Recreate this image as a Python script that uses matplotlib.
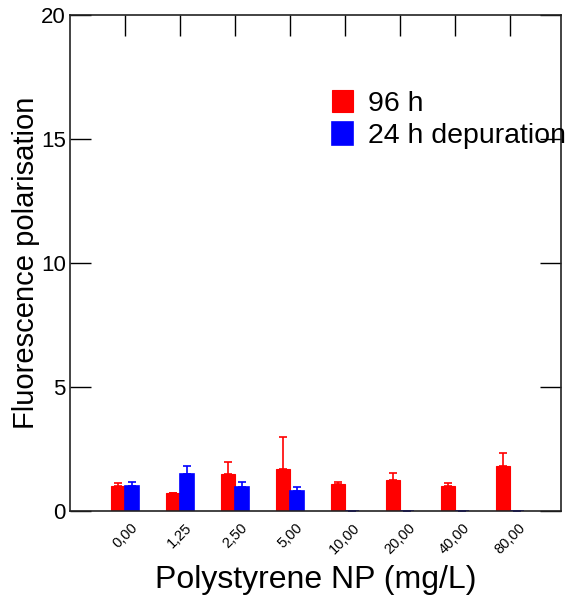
import numpy as np
import matplotlib
matplotlib.use("Agg")
from matplotlib import pyplot as plt

plt.rcParams['font.family'] = ['Liberation Sans', 'DejaVu Sans']

# Data
concentrations = ["0,00", "1,25", "2,50", "5,00", "10,00", "20,00", "40,00", "80,00"]
fp_96h = [1.01, 0.73, 1.50, 1.71, 1.10, 1.24, 1.02, 1.83]
fp_96h_err = [0.10, 0.0, 0.46, 1.26, 0.07, 0.30, 0.09, 0.51]
fp_depuration = [1.01, 1.48, 0.98, 0.82, 0.0, 0.0, 0.0, 0.0]
fp_depuration_err = [0.16, 0.33, 0.17, 0.13, 0.0, 0.0, 0.0, 0.0]

x = np.arange(len(concentrations))
width = 0.26

fig = plt.figure(figsize=(5.68, 5.99), dpi=100)
ax = fig.add_axes([70 / 568, 88 / 599, 491 / 568, 496 / 599])

red = "#ff0000"
blue = "#0000ff"
ax.bar(x - width / 2, fp_96h, width, color=red, edgecolor=red, linewidth=0.8,
       label="96 h", zorder=2)
ax.errorbar(x - width / 2, fp_96h, yerr=[np.zeros(len(x)), fp_96h_err],
            fmt="none", ecolor=red, elinewidth=1.2, capsize=3, capthick=1.2, zorder=1)
ax.bar(x + width / 2, fp_depuration, width, color=blue, edgecolor=blue, linewidth=1.2,
       label="24 h depuration", zorder=2)
ax.errorbar(x + width / 2, fp_depuration, yerr=[np.zeros(len(x)), fp_depuration_err],
            fmt="none", ecolor=blue, elinewidth=1.2, capsize=3, capthick=1.2, zorder=1)

ax.set_xlim(-1.0, 7.93)
ax.set_ylim(0, 20)
ax.set_yticks([0, 5, 10, 15, 20])
ax.set_yticklabels(["0", "5", "10", "15", "20"], fontsize=16)
ax.set_xticks(x)
ax.set_xticklabels(concentrations, rotation=45, fontsize=10.5)

ax.tick_params(axis="y", direction="in", length=15, width=1, pad=3,
               right=True, left=True)
ax.tick_params(axis="x", direction="in", length=0, top=False, pad=7)
# top spine ticks at category positions
sec = ax.secondary_xaxis("top")
sec.set_xticks(x)
sec.set_xticklabels([])
sec.tick_params(direction="in", length=15, width=1)
sec.spines["top"].set_visible(False)

for sp in ax.spines.values():
    sp.set_linewidth(1.2)
    sp.set_color("#222222")

ax.set_xlabel("Polystyrene NP (mg/L)", fontsize=23, labelpad=6)
ax.set_ylabel("Fluorescence polarisation", fontsize=21, labelpad=1)

leg = ax.legend(loc="upper left", bbox_to_anchor=(0.505, 0.878), frameon=False,
                fontsize=20.5, handlelength=0.72, handleheight=0.85,
                handletextpad=0.55, labelspacing=0.18, borderpad=0)

fig.savefig("out.png", dpi=100)
